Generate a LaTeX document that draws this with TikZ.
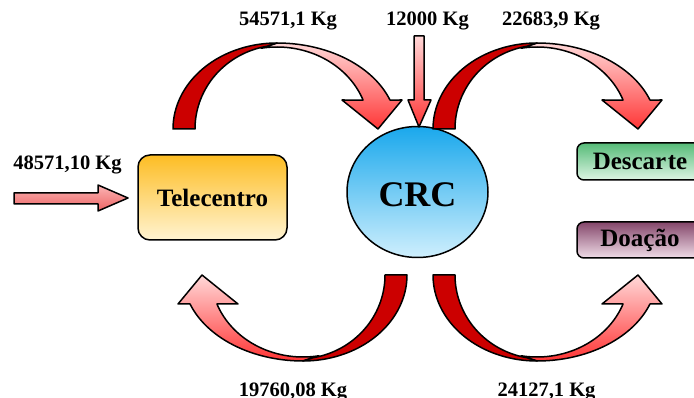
\documentclass[tikz,border=0pt]{standalone}
\usepackage{fontspec}
\setmainfont{Liberation Serif}
\usetikzlibrary{shapes.geometric}

\definecolor{bandtop}{HTML}{FFD8D8}
\definecolor{bandbot}{HTML}{FF3535}
\definecolor{bandred}{HTML}{CC0000}
\definecolor{inleft}{HTML}{FBB4B4}
\definecolor{inright}{HTML}{EC6464}
\definecolor{teletop}{HTML}{FDBD24}
\definecolor{telebot}{HTML}{FFF4D2}
\definecolor{crctop}{HTML}{1AA8EC}
\definecolor{crcbot}{HTML}{CFEFFD}
\definecolor{desctop}{HTML}{56BB78}
\definecolor{descbot}{HTML}{DDF5E4}
\definecolor{doatop}{HTML}{84466A}
\definecolor{doabot}{HTML}{F0DDE8}

\tikzset{
  outline/.style={draw=black, line width=1.5pt, line join=round},
  lightband/.style={outline, top color=bandtop, bottom color=bandbot},
  darkband/.style={outline, fill=bandred},
  qty/.style={font=\bfseries\fontsize{20.5}{24}\selectfont, anchor=base, inner sep=0pt},
  boxtext/.style={font=\bfseries\fontsize{25}{30}\selectfont},
  stagebox/.style={outline, rounded corners=12pt, boxtext},
  sidebox/.style={outline, rounded corners=7pt, boxtext, minimum width=126pt},
}

% Curved block arrow: #1,#2 centre of the arc, #3,#4 mirror factors (+1/-1)
\newcommand\bendarrow[4]{%
  \path[lightband]
    plot[domain=270:340.3, samples=40] ({#1+#3*120*cos(\x)},{#2+#4*86*sin(\x)})
    -- ({#1+#3*125},{#2-#4*29}) -- ({#1+#3*101},{#2}) -- ({#1+#3*65},{#2-#4*29})
    -- plot[domain=339.3:260, samples=40] ({#1+#3*92*cos(\x)},{#2+#4*82*sin(\x)})
    -- cycle;
  \path[darkband]
    plot[domain=180:270, samples=40] ({#1+#3*104*cos(\x)},{#2+#4*86*sin(\x)})
    -- plot[domain=260:180, samples=40] ({#1+#3*(5+87*cos(\x))},{#2+#4*84*sin(\x)})
    -- cycle;
}

\begin{document}
\begin{tikzpicture}[x=1pt, y=-1pt]
\useasboundingbox (0,0) rectangle (694,398);
\clip (0,0) rectangle (694,398);

% stations
\node[stagebox, top color=teletop, bottom color=telebot,
      minimum width=149pt, minimum height=85pt] (tele) at (212.5,197.5) {Telecentro};
\node[outline, ellipse, top color=crctop, bottom color=crcbot,
      minimum width=141pt, minimum height=131pt, inner sep=0pt,
      font=\bfseries\fontsize{36}{40}\selectfont,
      text height=30pt, text depth=0pt] (crc) at (417.5,192) {CRC};
\node[sidebox, top color=desctop, bottom color=descbot,
      minimum height=37pt] (desc) at (640,161.5) {Descar\kern1.5pt te};
\node[sidebox, top color=doatop, bottom color=doabot,
      minimum height=36pt] (doa) at (640,240) {Doação};

% curved flows
\bendarrow{277}{129}{1}{1}
\bendarrow{537}{129}{1}{1}
\bendarrow{303}{275}{-1}{-1}
\bendarrow{537}{275}{1}{-1}

% straight inflows
\path[lightband] (414,36) -- (424,36) -- (424,100) -- (431,100) -- (419,127)
  -- (408,100) -- (414,100) -- cycle;
\path[outline, top color=inleft, bottom color=inright]
  (14,193) -- (98,193) -- (98,185) -- (128,198) -- (98,211) -- (98,204) -- (14,204) -- cycle;

% quantities
\node[qty] (q1) at (288,26) {54571,1 Kg};
\node[qty] (q2) at (427.5,26) {12000 Kg};
\node[qty] (q3) at (551,26) {22683,9 Kg};
\node[qty] (q4) at (67.5,170) {48571,10 Kg};
\node[qty] (q5) at (293,396.5) {19760,08 Kg};
\node[qty] (q6) at (546.5,396.5) {24127,1 Kg};
\end{tikzpicture}
\end{document}
